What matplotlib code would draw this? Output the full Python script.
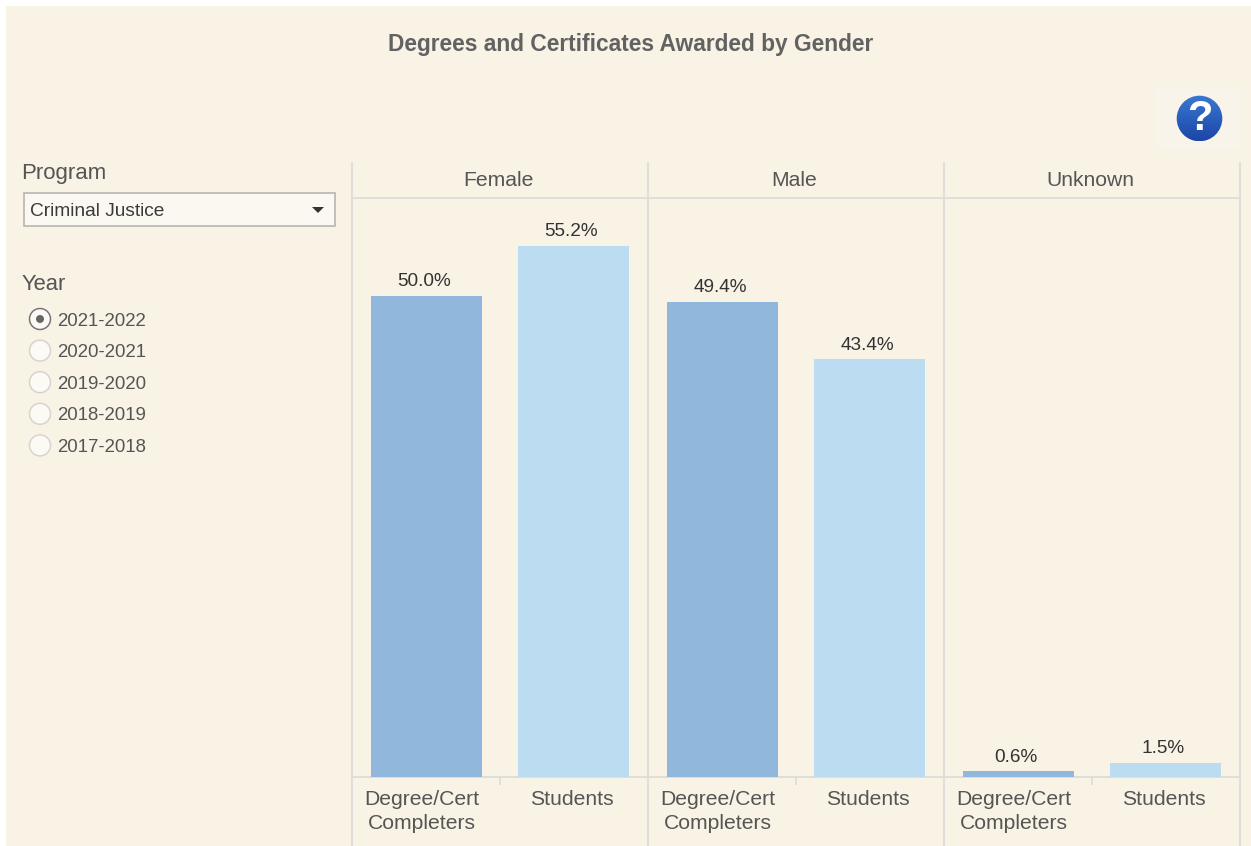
import numpy as np
import matplotlib
matplotlib.use("Agg")
import matplotlib.pyplot as plt
from matplotlib.patches import Rectangle, Circle, Polygon
from matplotlib.transforms import ScaledTranslation

plt.rcParams['font.family'] = ['Liberation Sans', 'DejaVu Sans']

W, H = 1251, 846
BG = '#F9F3E6'
GRID = '#DBDAD6'
TXT = '#555555'

title = 'Degrees and Certificates Awarded by Gender'
genders = ['Female', 'Male', 'Unknown']
categories = ['Degree/Cert\nCompleters', 'Students']
degree_vals = [50.0, 49.4, 0.6]
student_vals = [55.2, 43.4, 1.5]
bar_colors = ['#92B7DC', '#BCDCF2']
years = ['2021-2022', '2020-2021', '2019-2020', '2018-2019', '2017-2018']
program = 'Criminal Justice'

fig = plt.figure(figsize=(W/100, H/100), dpi=100, facecolor='white')

ov = fig.add_axes([0, 0, 1, 1], zorder=0)
ov.set_xlim(0, W); ov.set_ylim(H, 0); ov.axis('off')
ov.add_patch(Rectangle((6, 6), W-6, H-6, fc=BG, ec='none'))

ov.text(631, 44.5, title, ha='center', va='center', fontsize=16.4, fontweight='bold', color='#626262')

# help icon
ov.add_patch(Rectangle((1156, 87), 86, 62, fc='#F8F4E9', ec='none'))
grad = np.linspace(0, 1, 64).reshape(-1, 1)
cmap = matplotlib.colors.LinearSegmentedColormap.from_list('b', ['#3A78D0', '#1C46A8'])
im = ov.imshow(grad, extent=(1176, 1223, 141, 95), cmap=cmap, aspect='auto', zorder=2)
clip = Circle((1199.5, 118.5), 22.8, transform=ov.transData, fc='none', ec='none')
ov.add_patch(clip)
im.set_clip_path(clip)
ov.set_xlim(0, W); ov.set_ylim(H, 0)
ov.text(1199.5, 119.5, '?', ha='center', va='center', fontsize=30, fontweight='bold', color='white', zorder=3)

# left controls
ov.text(21.5, 173, 'Program', ha='left', va='center', fontsize=16, color=TXT)
ov.add_patch(Rectangle((24, 193.5), 310.5, 32.5, fc='#FBF8F1', ec='#B2B0AB', lw=1.1))
ov.text(30, 211, program, ha='left', va='center', fontsize=13.8, color='#3A3A3A')
ov.add_patch(Polygon([(312, 207), (324, 207), (318, 213)], fc='#333333', ec='none'))
ov.text(21.5, 284.5, 'Year', ha='left', va='center', fontsize=15.8, color=TXT)
for i, y in enumerate(years):
    yy = 319 + i*31.6
    sel = i == 0
    ov.add_patch(Circle((40, yy), 10.5, fc='#FCFAF5', ec='#777777' if sel else '#D6D4D0', lw=1.1))
    if sel:
        ov.add_patch(Circle((40, yy), 4, fc='#666666', ec='none'))
    ov.text(57.5, yy + 2, y, ha='left', va='center', fontsize=13.4, color=TXT)

# panel grid lines
for x in (352, 648, 944, 1240):
    ov.plot([x, x], [162, 846], color=GRID, lw=1.2, solid_capstyle='butt')
ov.plot([352, 1240], [198, 198], color=GRID, lw=1.2)
ov.plot([352, 1240], [777.5, 777.5], color=GRID, lw=1.2)

AX_TOP, AX_BOT = 198, 777
YMAX = (AX_BOT - AX_TOP) / 9.62
UNIT = 147
for i, g in enumerate(genders):
    x0 = 352 + 296*i
    ax = fig.add_axes([x0/W, 1-AX_BOT/H, 296/W, (AX_BOT-AX_TOP)/H], zorder=1)
    ax.patch.set_alpha(0)
    vals = [degree_vals[i], student_vals[i]]
    ax.bar([0, 1], vals, width=111/UNIT, color=bar_colors)
    # half a pixel of extra room on the left moves the bars to their reference position
    ax.set_xlim(-0.5 - 0.7/UNIT, 296/UNIT - 0.5 - 0.7/UNIT); ax.set_ylim(0, YMAX)
    for s in ax.spines.values():
        s.set_visible(False)
    ax.set_yticks([])
    ax.set_xticks([0, 1], categories, fontsize=15.2, color=TXT, linespacing=1.33, va='top')
    ax.tick_params(axis='x', length=0, pad=9.5)
    lab = ax.get_xticklabels()
    lab[0].set_transform(lab[0].get_transform() + ScaledTranslation(-4/100, 0, fig.dpi_scale_trans))
    lab[1].set_transform(lab[1].get_transform() + ScaledTranslation(-1/100, 0, fig.dpi_scale_trans))
    for xv, v in zip([0, 1], vals):
        ax.annotate(f'{v:.1f}%', (xv, v), xytext=(-1.5, 4), textcoords='offset points',
                    ha='center', va='bottom', fontsize=13.7, color='#333333')
    ax.text(0.5 - 2/296, 1 + 8/(AX_BOT-AX_TOP), g, transform=ax.transAxes, ha='center', va='bottom',
            fontsize=15.2, color=TXT)
    ov.plot([x0+148, x0+148], [777, 785], color=GRID, lw=1.2, solid_capstyle='butt')

fig.savefig('out.png', dpi=100, facecolor=fig.get_facecolor())
